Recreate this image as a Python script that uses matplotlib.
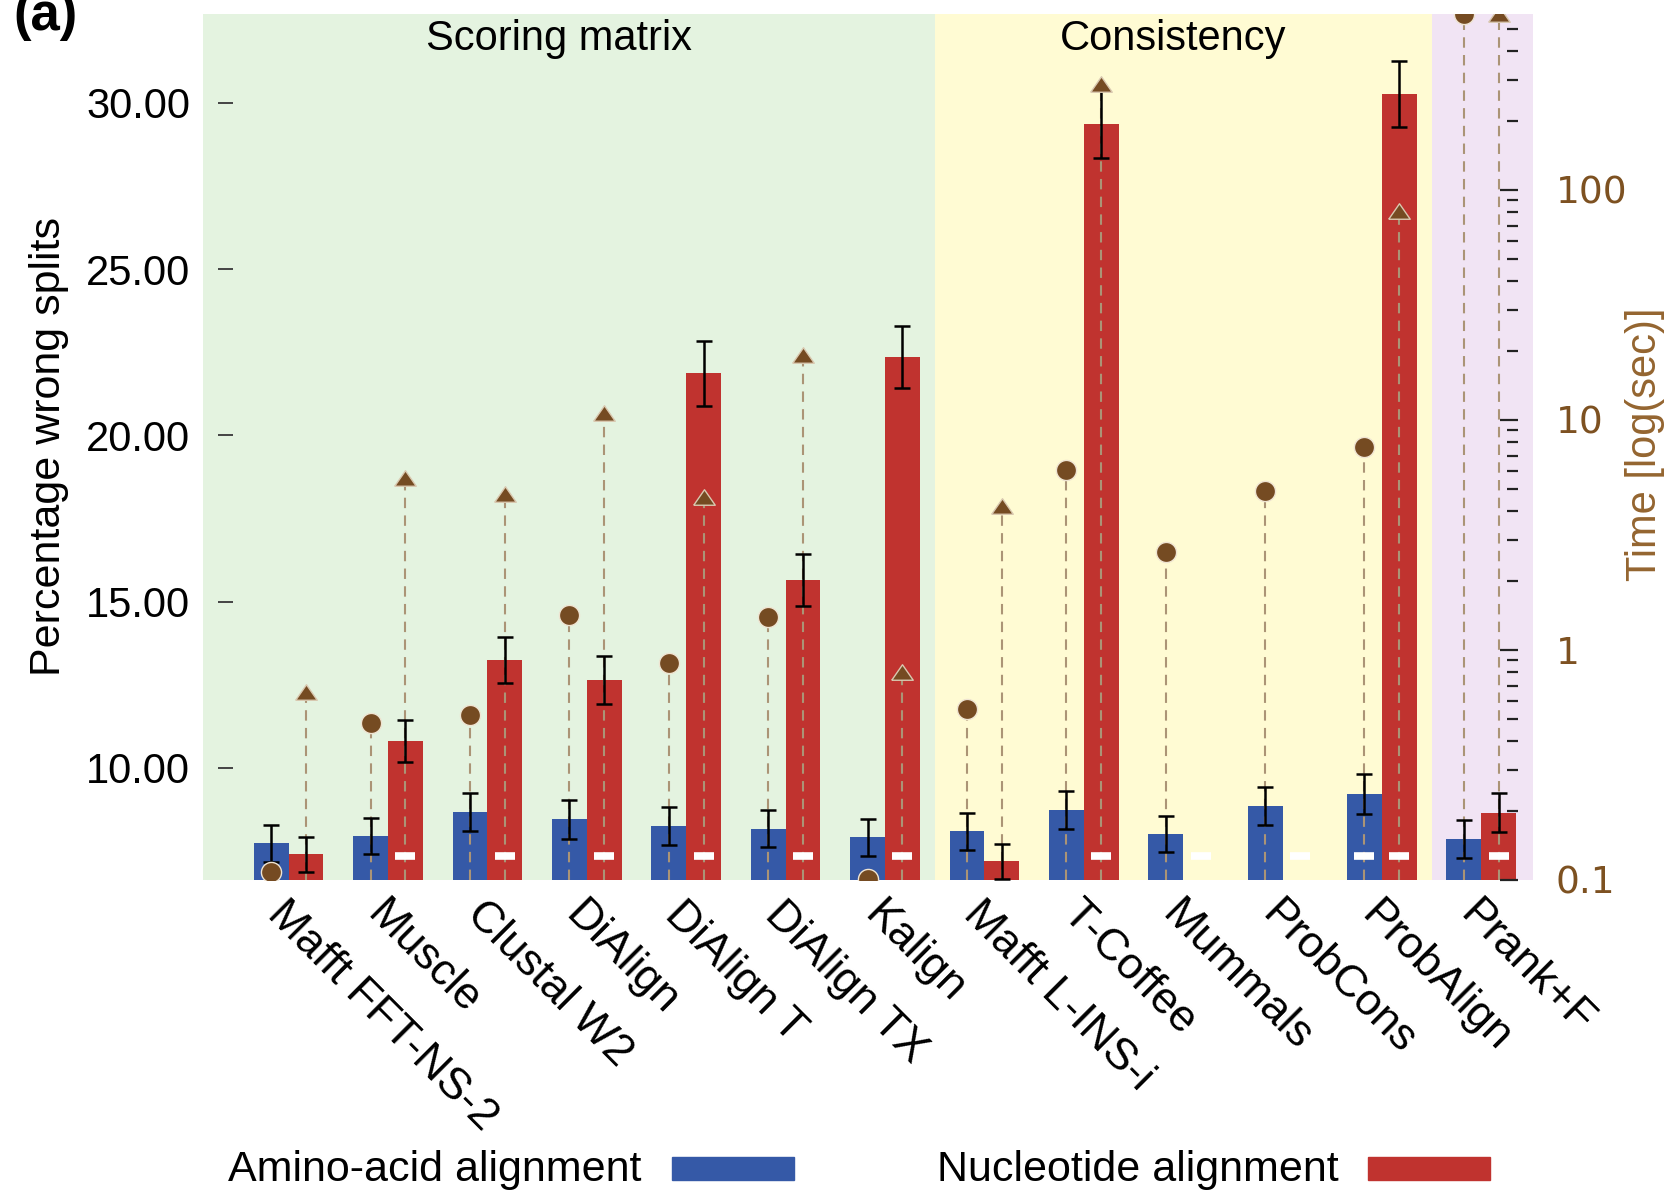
import numpy as np
import matplotlib
matplotlib.use("Agg")
import matplotlib.pyplot as plt
from matplotlib.ticker import FormatStrFormatter, LogLocator, NullFormatter
from matplotlib.patches import Rectangle

plt.rcParams['font.family'] = ['Liberation Sans', 'DejaVu Sans']

# data
methods = ["Mafft FFT-NS-2", "Muscle", "Clustal W2", "DiAlign", "DiAlign T",
           "DiAlign TX", "Kalign", "Mafft L-INS-i", "T-Coffee", "Mummals",
           "ProbCons", "ProbAlign", "Prank+F"]
aa_wrong = [7.73, 7.95, 8.68, 8.45, 8.25, 8.17, 7.91, 8.09, 8.73, 8.01, 8.85, 9.21, 7.86]
aa_sd = [0.55, 0.55, 0.57, 0.58, 0.58, 0.56, 0.55, 0.55, 0.58, 0.55, 0.58, 0.61, 0.56]
nt_wrong = [7.40, 10.81, 13.24, 12.64, 21.86, 15.65, 22.36, 7.19, 29.36, np.nan, np.nan, 30.26, 8.65]
nt_sd = [0.53, 0.62, 0.70, 0.72, 0.99, 0.79, 0.93, 0.53, 1.03, np.nan, np.nan, 0.99, 0.59]
aa_time = [0.108, 0.48, 0.522, 1.42, 0.875, 1.39, 0.101, 0.552, 6.05, 2.67, 4.9, 7.6, 582]
nt_time = [0.659, 5.58, 4.77, 10.7, 4.61, 19.2, 0.805, 4.23, 290, np.nan, np.nan, 81.2, 582]
# white dash marks (shown at bottom of bars)
aa_mark = [0, 0, 0, 0, 0, 0, 0, 0, 0, 0, 0, 1, 0]
nt_mark = [0, 1, 1, 1, 1, 1, 1, 0, 1, 1, 1, 1, 1]
mark_level = 7.36
sections = [("Scoring matrix", -0.863, 6.5, "#e4f3e0"),
            ("Consistency", 6.5, 11.5, "#fffbd3"),
            ("", 11.5, 12.52, "#f1e4f4")]

blue = "#3559a7"
red = "#c0332f"
brown = "#754b22"
dash_col = "#ab9476"

x = np.arange(len(methods))
w = 0.35
aa_wrong = np.array(aa_wrong); aa_sd = np.array(aa_sd)
nt_wrong = np.array(nt_wrong); nt_sd = np.array(nt_sd)
aa_time = np.array(aa_time); nt_time = np.array(nt_time)
xa = x - w / 2
xn = x + w / 2
ok = ~np.isnan(nt_wrong)
okt = ~np.isnan(nt_time)

fig = plt.figure(figsize=(16.77, 11.94), dpi=100)
ax = fig.add_axes([0.1210, 0.2630, 0.7931, 0.7253])
ax.set_facecolor("none")

for name, x0, x1, col in sections:
    ax.axvspan(x0, x1, color=col, lw=0, zorder=0)

ax.bar(xa, aa_wrong, w, color=blue, zorder=2)
ax.bar(xn[ok], nt_wrong[ok], w, color=red, zorder=2)

ax.set_xlim(-0.863, 12.52)
ax.set_ylim(6.63, 32.67)

# time on log axis
ax2 = ax.twinx()
ax2.set_yscale("log")
ax2.set_ylim(0.1, 582)
ax2.vlines(xa, 0.1, aa_time, colors=dash_col, linestyles=(0, (5, 3.5)), lw=1.5, zorder=3)
ax2.vlines(xn[okt], 0.1, nt_time[okt], colors=dash_col, linestyles=(0, (5, 3.5)), lw=1.5, zorder=3)

ax2.errorbar(xa, aa_wrong, yerr=aa_sd, fmt="none", ecolor="black", elinewidth=1.8,
             capsize=5.5, capthick=1.8, transform=ax.transData, zorder=4)
ax2.errorbar(xn[ok], nt_wrong[ok], yerr=nt_sd[ok], fmt="none", ecolor="black",
             elinewidth=1.8, capsize=5.5, capthick=1.8, transform=ax.transData, zorder=4)

tri = [(-1, -0.72), (1, -0.72), (0, 0.72), (-1, -0.72)]
ax2.plot(xa, aa_time, "o", ms=14.5, color=brown, mec="#efe4d2", mew=1, zorder=5)
ax2.plot(xn[okt], nt_time[okt], ls="none", marker=tri, ms=15.5, color=brown,
         mec="#d9c8b0", mew=1, zorder=5)

am = np.array(aa_mark, bool)
nm = np.array(nt_mark, bool)
ax2.plot(np.concatenate([xa[am], xn[nm]]), [mark_level] * (am.sum() + nm.sum()),
         ls="none", marker="_", ms=15, mew=5.5, color="white",
         transform=ax.transData, zorder=6)
ax2.set_ylim(0.1, 582)

# left axis
for s in ax.spines.values():
    s.set_color("none")
ax.spines["left"].set_position(("data", -0.712))
ax.set_yticks([10, 15, 20, 25, 30])
ax.yaxis.set_major_formatter(FormatStrFormatter("%.2f"))
ax.tick_params(axis="y", direction="in", length=11, width=1.4, color="#444444",
               pad=20, labelsize=30)
ax.set_ylabel("Percentage wrong splits", fontsize=31, labelpad=12)

ax.set_xticks(x)
ax.set_xticklabels(methods, rotation=-45, ha="left", va="top",
                   rotation_mode="anchor", fontsize=32)
ax.tick_params(axis="x", length=0, pad=10)

# right axis
for s in ax2.spines.values():
    s.set_color("none")
ax2.spines["right"].set_position(("data", 12.37))
ax2.yaxis.set_minor_locator(LogLocator(base=10, subs=np.arange(2, 10), numticks=10))
ax2.yaxis.set_minor_formatter(NullFormatter())
ax2.set_yticks([0.1, 1, 10, 100])
ax2.set_yticklabels(["0.1", "1", "10", "100"], family="DejaVu Sans")
ax2.tick_params(axis="y", which="major", direction="in", length=13, width=1.6,
                color="#222222", pad=27, labelsize=27, labelcolor="#7d5121")
ax2.tick_params(axis="y", which="minor", direction="in", length=8, width=1.6,
                color="#222222")
fig.text(1645 / 1677, 1 - 444 / 1194, "Time [log(sec)]", fontsize=30,
         color="#946530", rotation=90, ha="center", va="center")

# section titles
for name, x0, x1, col in sections:
    if name:
        ax.text((x0 + x1) / 2 - 0.1, 0.958, name, transform=ax.get_xaxis_transform(),
                ha="center", va="baseline", fontsize=30)

fig.text(0.008, 0.975, "(a)", fontsize=38, fontweight="bold", va="baseline")

# legend along the bottom
fig.text(228 / 1677, 0.0105, "Amino-acid alignment", fontsize=31, va="baseline")
fig.text(937 / 1677, 0.0105, "Nucleotide alignment", fontsize=31, va="baseline")
fig.patches.append(Rectangle((672 / 1677, 14 / 1194), 122 / 1677, 23 / 1194,
                             transform=fig.transFigure, color=blue))
fig.patches.append(Rectangle((1368 / 1677, 14 / 1194), 122 / 1677, 23 / 1194,
                             transform=fig.transFigure, color=red))

fig.savefig("out.png", dpi=100)
